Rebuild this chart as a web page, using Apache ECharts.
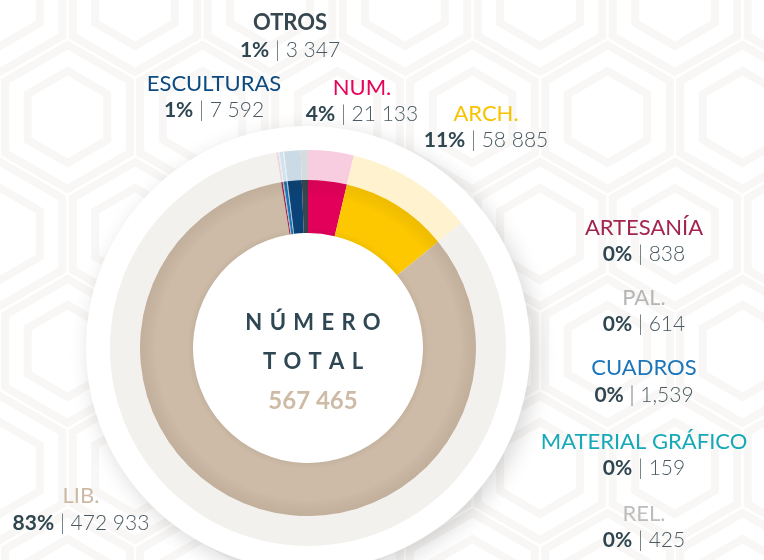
<!DOCTYPE html>
<html>
<head>
<meta charset="utf-8">
<script src="https://cdn.jsdelivr.net/npm/echarts@6/dist/echarts.min.js"></script>
<style>
html,body{margin:0;padding:0;background:#fff}
#main{width:764px;height:560px}
</style>
</head>
<body>
<div id="main"></div>
<script>
// datos del acervo
var names = ['NUM.', 'ARCH.', 'LIB.', 'ARTESANÍA', 'PAL.', 'CUADROS', 'MATERIAL GRÁFICO', 'REL.', 'ESCULTURAS', 'OTROS'];
var values = [21133, 58885, 472933, 838, 614, 1539, 159, 425, 7592, 3347];
var pctText = ['4%', '11%', '83%', '0%', '0%', '0%', '0%', '0%', '1%', '1%'];
var valueText = ['21 133', '58 885', '472 933', '838', '614', '1,539', '159', '425', '7 592', '3 347'];
var centerWords = ['NÚMERO', 'TOTAL'];

//colores
var colors = ['#e2005a', '#fdc800', '#cdbba7', '#a3234f', '#b8b8b8', '#1a74ba', '#17abb9', '#bdbdbd', '#0b4277', '#37474f'];
var lightColors = ['#f8cde0', '#fff3cf', '#f3f1ed', '#ecd3dc', '#ececec', '#cfe2f1', '#cdeef1', '#ececec', '#cbdbe6', '#d6dbde'];
var nameColors = ['#e4045b', '#f7c300', '#cdbaa4', '#a3254f', '#b5b5b5', '#1b75bb', '#16a9b8', '#bdbdbd', '#0d4a7f', '#37474f'];
// posicion de etiquetas (centro x, centro y de la primera linea)
var labelPos = [[362, 87.5], [486, 113.5], [81, 496], [644, 227.5], [644, 297.5], [644, 368], [644, 441.5], [644, 513.5], [214, 83.5], [290, 23]];

var CX = 308, CY = 348;
var LH = 27;

var total = 0;
for (var i = 0; i < values.length; i++) total += values[i];
function fmt(n) {
    return String(n).replace(/\B(?=(\d{3})+(?!\d))/g, ' ');
}
function spaced(w) {
    return w.split('').join('\u2004');
}

//fondo
function makePattern() {
    var R = 78, w = 135, h = 234;
    var c = document.createElement('canvas');
    c.width = w; c.height = h;
    var ctx = c.getContext('2d');
    ctx.fillStyle = '#ffffff';
    ctx.fillRect(0, 0, w, h);
    ctx.strokeStyle = '#f8f7f5';
    ctx.lineWidth = 8;
    var centers = [[0, 0], [w, 0], [0, h], [w, h], [w / 2, h / 2], [-w / 2, h / 2], [w * 1.5, h / 2]];
    var rings = [R - 6, R - 32];
    centers.forEach(function (p) {
        rings.forEach(function (r) {
            ctx.beginPath();
            for (var k = 0; k < 6; k++) {
                var a = Math.PI / 180 * (60 * k - 90);
                var x = p[0] + r * Math.cos(a) * (w / (Math.sqrt(3) * R));
                var y = p[1] + r * Math.sin(a);
                if (k == 0) ctx.moveTo(x, y); else ctx.lineTo(x, y);
            }
            ctx.closePath();
            ctx.stroke();
        });
    });
    return c;
}

var innerData = [], outerData = [], rich = {
    p: {fontFamily: 'Lato', fontSize: 21, fontWeight: 'bold', color: '#2f4550', lineHeight: LH},
    s: {fontFamily: 'Lato', fontSize: 21, fontWeight: 300, color: '#56656c', lineHeight: LH},
    v: {fontFamily: 'Lato', fontSize: 21, fontWeight: 300, color: '#4a5a62', lineHeight: LH}
};
for (var i = 0; i < names.length; i++) {
    innerData.push({name: names[i], value: values[i], itemStyle: {color: colors[i]}});
    outerData.push({name: names[i], value: values[i], itemStyle: {color: lightColors[i]}});
    rich['n' + i] = {fontFamily: 'Lato', fontSize: 22, color: nameColors[i], lineHeight: LH,
        fontWeight: names[i] == 'OTROS' ? 'bold' : 'normal'};
}

var myChart = echarts.init(document.getElementById('main'));
var option = {
    backgroundColor: '#ffffff',
    animation: false,
    graphic: [{
        type: 'rect', z: -10, silent: true,
        shape: {x: 0, y: 0, width: 764, height: 560},
        style: {fill: {image: makePattern(), repeat: 'repeat'}}
    }],
    title: {
        left: CX, top: CY - 50, textAlign: 'center',
        text: '{a|' + spaced(centerWords[0]) + '}\n{a|' + spaced(centerWords[1]) + '}\n{b|' + fmt(total) + '}',
        textStyle: {
            rich: {
                a: {fontFamily: 'Lato', fontSize: 22, color: '#2f4752', lineHeight: 39, align: 'center'},
                b: {fontFamily: 'Lato', fontSize: 24, fontWeight: 'bold', color: '#cdbba6', lineHeight: 41, align: 'center'}
            }
        }
    },
    series: [
        {
            // plato blanco
            type: 'pie', silent: true, z: 1,
            center: [CX, CY], radius: [0, 222],
            label: {show: false}, labelLine: {show: false},
            itemStyle: {color: '#ffffff', shadowBlur: 22, shadowColor: 'rgba(0,0,0,0.16)', shadowOffsetX: 5, shadowOffsetY: 6},
            data: [{value: total, name: ''}]
        },
        {
            type: 'pie', silent: true, z: 2,
            center: [CX, CY], radius: [168, 198],
            startAngle: 90, clockwise: true,
            label: {show: false}, labelLine: {show: false},
            itemStyle: {borderWidth: 0},
            data: outerData
        },
        {
            type: 'pie', silent: true, z: 3,
            center: [CX, CY], radius: [115, 168],
            startAngle: 90, clockwise: true,
            avoidLabelOverlap: false,
            itemStyle: {borderWidth: 0},
            label: {
                show: true,
                position: 'outside',
                formatter: function (p) {
                    var i = p.dataIndex;
                    return '{n' + i + '|' + names[i] + '}\n{p|' + pctText[i] + '}{s| | }{v|' + valueText[i] + '}';
                },
                rich: rich
            },
            labelLine: {show: false},
            labelLayout: function (p) {
                var pos = labelPos[p.dataIndex];
                return {x: pos[0], y: pos[1] - LH / 2, align: 'center', verticalAlign: 'top', hideOverlap: false};
            },
            data: innerData
        },
        {
            // sombreado interior
            type: 'pie', silent: true, z: 4,
            center: [CX, CY], radius: [115, 168],
            label: {show: false}, labelLine: {show: false},
            itemStyle: {
                color: {
                    type: 'radial', x: 0.5, y: 0.5, r: 0.5,
                    colorStops: [
                        {offset: 0.68, color: 'rgba(0,0,0,0.05)'},
                        {offset: 0.72, color: 'rgba(0,0,0,0)'},
                        {offset: 0.9, color: 'rgba(0,0,0,0)'},
                        {offset: 1, color: 'rgba(60,40,20,0.08)'}
                    ]
                }
            },
            data: [{value: total, name: ''}]
        }
    ]
};
myChart.setOption(option);
</script>
</body>
</html>
